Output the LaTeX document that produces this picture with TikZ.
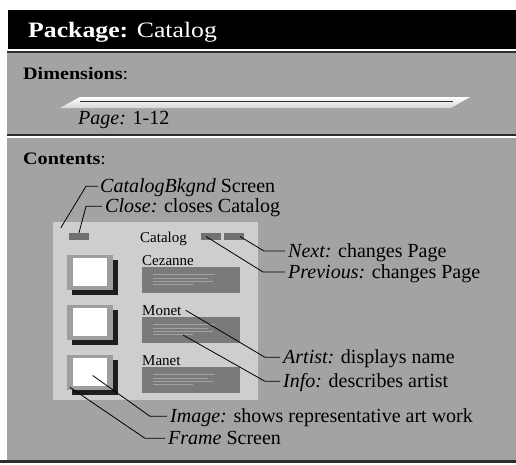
\documentclass[tikz,border=0pt]{standalone}
\usepackage{fontspec}
\setmainfont{Liberation Serif}
\definecolor{panelgray}{RGB}{163,163,163}
\definecolor{screengray}{RGB}{206,206,206}
\definecolor{infogray}{RGB}{122,122,122}
\definecolor{btngray}{RGB}{112,112,112}
\definecolor{framegray}{RGB}{158,158,158}
\definecolor{shadowgray}{RGB}{30,30,30}
\definecolor{rulegray}{RGB}{45,45,45}
\tikzset{
  heading/.style={anchor=base west, inner sep=0pt, font=\fontsize{17.5}{20}\selectfont},
  callout/.style={anchor=base west, inner sep=0pt, text height=13pt, text depth=1pt,
                  font=\fontsize{20}{24}\selectfont},
  screentext/.style={anchor=base west, inner sep=0pt, font=\fontsize{15}{18}\selectfont},
  btn/.style={fill=btngray, minimum width=20pt, minimum height=7pt, inner sep=0pt},
  inforect/.style={fill=infogray, minimum width=98pt, minimum height=26pt, inner sep=0pt},
  picframe/.style={fill=framegray, minimum width=46pt, minimum height=35pt, inner sep=0pt},
  picimage/.style={fill=white, minimum width=34pt, minimum height=27.5pt, inner sep=0pt},
  leader/.style={draw=black, line width=0.8pt},
  textline/.style={draw=infogray!70!white, line width=0.4pt}
}
\begin{document}
\begin{tikzpicture}[x=1pt,y=-1pt]
\useasboundingbox (0,0) rectangle (516,464);
\fill[white] (0,0) rectangle (516,464);

% title bar
\fill[black] (8,10) rectangle (516,49);
\node[anchor=base west, inner sep=0pt, text=white, font=\fontsize{22}{26}\selectfont]
  (title) at (28,37.5) {\scalebox{1.17}[1]{\textbf{Package:} Catalog}};
\fill[rulegray] (7,51) rectangle (516,53);

% dimensions panel
\fill[panelgray] (7,53) rectangle (516,134);
\node[heading] (dimhead) at (23,79) {\scalebox{1.15}[1]{\textbf{Dimensions}:}};
% page bar
\shade[top color=white, bottom color=white!55!panelgray]
  (60,108) -- (80,97) -- (470,97) -- (451,108) -- cycle;
\fill[rulegray] (80,100.6) rectangle (453,102.2);
\node[anchor=base west, inner sep=0pt, font=\fontsize{20}{24}\selectfont]
  (pagelbl) at (78,124.5) {\textit{Page:} 1-12};
\fill[rulegray] (7,134) rectangle (516,136);

% contents panel
\fill[panelgray] (7,138) rectangle (516,459.5);
\node[heading] (conthead) at (23,164) {\scalebox{1.15}[1]{\textbf{Contents}:}};
\fill[rulegray] (0,459.5) rectangle (516,463);

% catalog screen
\node[fill=screengray, minimum width=205pt, minimum height=178pt, inner sep=0pt]
  (catpanel) at (155.5,311) {};
\node[btn] (btnclose) at (79,236.5) {};
\node[btn] (btnprev) at (211,236.5) {};
\node[btn] (btnnext) at (234,236.5) {};
\node[screentext] (cattitle) at (140,242.7) {Catalog};

% artist rows: frame with shadow, name, info box
\foreach \r/\y/\nm in {1/255/Cezanne, 2/305/Monet, 3/355/Manet}{
  \fill[shadowgray] (72,\y+5) rectangle (118,\y+40);
  \node[picframe] (frame\r) at (90,\y+17.5) {};
  \node[picimage] (img\r) at (89.7,\y+17) {};
  \node[screentext] (name\r) at (142,\y+10) {\nm};
  \node[inforect] (info\r) at (191,\y+25) {};
  \foreach \k/\len in {0/62,1/55,2/60,3/40}{
    \draw[textline] (153,\y+19.5+3.3*\k) -- ++(\len,0);
  }
}

% callout labels
\node[callout] (bkgndlbl) at (100,192.3) {\textit{CatalogBkgnd} Screen};
\node[callout] (closelbl) at (105,212.3) {\textit{Close:} closes Catalog};
\node[callout] (nextlbl) at (288,257) {\textit{Next:} changes Page};
\node[callout] (prevlbl) at (288,278) {\textit{Previous:} changes Page};
\node[callout] (artistlbl) at (283,363.3) {\textit{Artist:} displays name};
\node[callout] (infolbl) at (283,387.3) {\textit{Info:} describes artist};
\node[callout] (imagelbl) at (170,422.3) {\textit{Image:} shows representative art work};
\node[callout] (framelbl) at (168,444.3) {\textit{Frame} Screen};

% leaders
\draw[leader] ([xshift=8pt,yshift=-6pt]catpanel.north west)
  -- ([xshift=-14pt]bkgndlbl.west) -- ([xshift=-2pt]bkgndlbl.west);
\draw[leader] (btnclose.north)
  -- ([xshift=-19pt]closelbl.west) -- ([xshift=-3pt]closelbl.west);
\draw[leader] ([xshift=6pt]btnnext.center)
  -- ([xshift=-24pt]nextlbl.west) -- ([xshift=-3pt]nextlbl.west);
\draw[leader] ([xshift=-5pt]btnprev.center)
  -- ([xshift=-25pt]prevlbl.west) -- ([xshift=-3pt]prevlbl.west);
\draw[leader] ([xshift=4pt]name2.east)
  -- ([xshift=-18pt]artistlbl.west) -- ([xshift=-3pt]artistlbl.west);
\draw[leader] ([xshift=-8pt,yshift=-5pt]info2.center)
  -- ([xshift=-18pt]infolbl.west) -- ([xshift=-3pt]infolbl.west);
\draw[leader] ([xshift=3pt,yshift=-3.5pt]img3.center)
  -- ([xshift=-20pt]imagelbl.west) -- ([xshift=-3pt]imagelbl.west);
\draw[leader] ([xshift=3pt,yshift=3pt]frame3.south west)
  -- ([xshift=-23pt]framelbl.west) -- ([xshift=-3pt]framelbl.west);
\end{tikzpicture}
\end{document}
